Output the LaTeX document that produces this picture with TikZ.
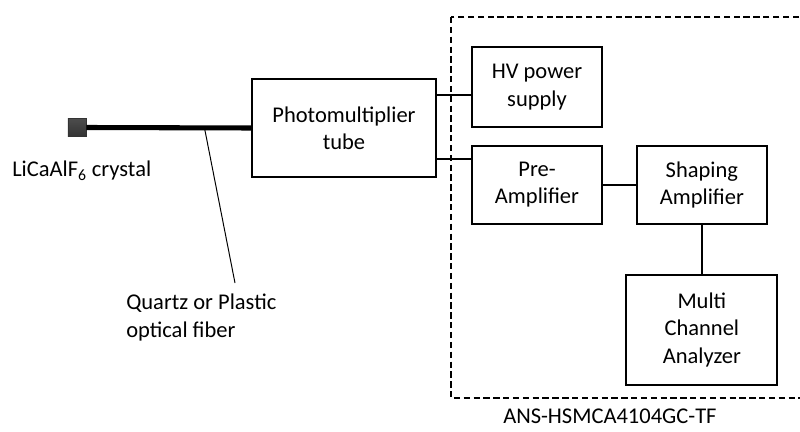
\documentclass[tikz,border=0pt]{standalone}
\usepackage{fontspec}
\setmainfont{Carlito}
\usetikzlibrary{positioning}

\begin{document}
\begin{tikzpicture}[
  x=0.025cm, y=-0.025cm,
  node distance=0.425cm and 0.825cm,
  box/.style={rectangle, draw=black, line width=1.3pt, align=center, inner sep=0pt,
              minimum width=3.25cm, minimum height=1.95cm,
              font=\fontsize{16}{19.5}\selectfont},
  crystal/.style={rectangle, draw=black!80, line width=0.6pt, minimum size=0.45cm, inner sep=0pt,
                  top color=black!70, middle color=gray!60, bottom color=black!80},
  fiber/.style={line width=3.6pt},
  wire/.style={line width=1.3pt},
  pointer/.style={line width=0.7pt},
  lbl/.style={inner sep=0pt, anchor=north west, align=left,
              font=\fontsize{16}{19.5}\selectfont}
]
\useasboundingbox (0,0) rectangle (800,432);

\draw[line width=1.3pt, dash pattern=on 4.5pt off 2.5pt] (451,17) rectangle (810,398);

\node[crystal] (crystal) at (77,127.5) {};
\node[box, minimum width=4.6cm, minimum height=2.45cm] (pmt) at (344,128) {Photomultiplier\\tube};

\node[box, minimum height=2cm] (hv) at (537,87) {HV power\\supply};
\node[box, below=of hv]          (pre)     {Pre-\\Amplifier};
\node[box, right=of pre]         (shaping) {Shaping\\Amplifier};
\node[box, below=1.225cm of shaping, minimum width=3.775cm, minimum height=2.75cm] (mca) {Multi\\Channel\\Analyzer};

\draw[fiber] (crystal.east) -- coordinate[pos=0.717] (tap) (pmt.west);
\coordinate (ftip) at (235,283);
\draw[pointer] (tap) -- (ftip);

\draw[wire] ([yshift=-2mm]hv.west -| pmt.east) -- ([yshift=-2mm]hv.west);
\draw[wire] ([yshift=6.5mm]pre.west -| pmt.east) -- ([yshift=6.5mm]pre.west);
\draw[wire] (pre) -- (shaping);
\draw[wire] (shaping) -- (mca);

\node[lbl] (crystallbl) at (12,161) {LiCaAlF\textsubscript{6} crystal};
\node[lbl] (fiberlbl)   at (126,294) {Quartz or Plastic\\optical fiber};
\node[lbl] (unitlbl)    at (503,409) {ANS-HSMCA4104GC-TF};

\end{tikzpicture}
\end{document}
